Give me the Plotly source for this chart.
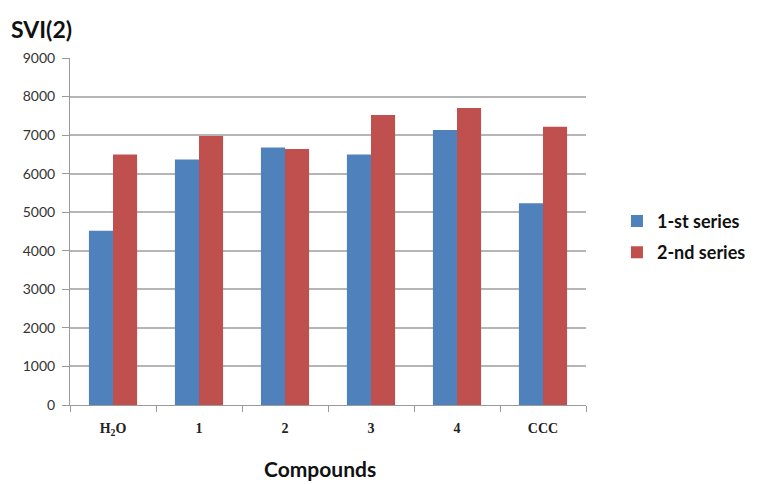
import plotly.graph_objects as go

categories = ["H<sub>2</sub>O", "1", "2", "3", "4", "CCC"]
series1 = [4520, 6370, 6680, 6500, 7130, 5230]
series2 = [6500, 6980, 6640, 7520, 7700, 7220]
series_names = ["1-st series", "2-nd series"]
y_ticks = [0, 1000, 2000, 3000, 4000, 5000, 6000, 7000, 8000, 9000]

fig = go.Figure()
fig.add_trace(go.Bar(x=categories, y=series1, name=series_names[0], legendgroup="a",
                     marker=dict(color="#4F81BD", line=dict(width=0))))
fig.add_trace(go.Bar(x=categories, y=series2, name=series_names[1], legendgroup="b",
                     marker=dict(color="#C0504D", line=dict(width=0))))

fig.update_layout(
    width=765, height=484,
    margin=dict(l=70, r=179, t=58, b=79),
    paper_bgcolor="white", plot_bgcolor="white",
    barmode="group", bargap=0.44, bargroupgap=0,
    legend=dict(x=1.06, y=0.485, xanchor="left", yanchor="middle",
                font=dict(family="Lato", size=18, color="#111111", weight="bold"),
                itemwidth=30, tracegroupgap=5),
    xaxis=dict(type="category", showgrid=False, showline=True, linecolor="#9a9a9a",
               linewidth=1, ticks="outside", tickson="boundaries", ticklen=6,
               tickcolor="#9a9a9a", ticklabelstandoff=10,
               tickfont=dict(family="Liberation Serif", size=14, color="#222222",
                             weight="bold")),
    yaxis=dict(range=[0, 9000], tickvals=y_ticks, showgrid=True, gridcolor="#b5b5b5",
               gridwidth=1.5, showline=True, linecolor="#9a9a9a", linewidth=1,
               ticks="outside", ticklen=7, tickcolor="#9a9a9a", ticklabelstandoff=4,
               tickfont=dict(family="Lato", size=14, color="#333333"), zeroline=False),
    annotations=[
        dict(text="<b>SVI(2)</b>", xref="paper", yref="paper", x=-0.118, y=1.085,
             xanchor="left", yanchor="middle", showarrow=False,
             font=dict(family="Lato", size=23, color="#111111")),
        dict(text="<b>Compounds</b>", xref="paper", yref="paper", x=0.484, y=-0.182,
             xanchor="center", yanchor="middle", showarrow=False,
             font=dict(family="Lato", size=21, color="#111111")),
    ],
)

fig.write_html("out.html")
